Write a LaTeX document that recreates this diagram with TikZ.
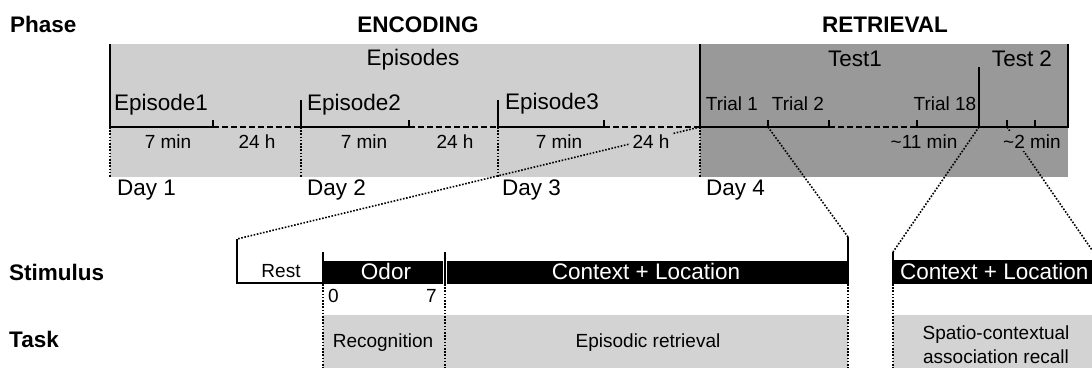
\documentclass[tikz,border=0pt]{standalone}
\usepackage{fontspec}
\setmainfont{Liberation Sans}
\definecolor{lightbox}{HTML}{CFCFCF}
\definecolor{darkbox}{HTML}{999999}
\definecolor{taskbox}{HTML}{D3D3D3}
\tikzset{
  lbl/.style={inner sep=0pt, font=\fontsize{19}{22}\selectfont},
  big/.style={inner sep=0pt, font=\fontsize{22.5}{26}\selectfont},
  hdr/.style={inner sep=0pt, font=\fontsize{22.5}{26}\selectfont\bfseries},
  tl/.style={line width=2pt},
  dsh/.style={line width=2pt, dash pattern=on 6pt off 3pt},
  dots/.style={line width=1.6pt, dash pattern=on 1.6pt off 1.6pt},
  bar/.style={fill=black},
}
\begin{document}
\begin{tikzpicture}[x=1pt,y=-1pt]
\clip (0,0) rectangle (1092,368);
\fill[white] (0,0) rectangle (1092,368);

% headers
\node[hdr,anchor=base west] (phase) at (10,32) {Phase};
\node[hdr,anchor=base] (enc) at (418,32) {ENCODING};
\node[hdr,anchor=base] (ret) at (885,32) {RETRIEVAL};
\node[hdr,anchor=base west] (stim) at (9,280) {Stimulus};
\node[hdr,anchor=base west] (task) at (9,347) {Task};

% phase boxes
\fill[lightbox] (110,44) rectangle (700,177);
\fill[darkbox] (700,44) rectangle (1068,177);

% named points
\coordinate (e1) at (110,127);
\coordinate (e2) at (301,127);
\coordinate (e3) at (498,127);
\coordinate (d4) at (700,127);
\coordinate (t1) at (768,127);
\coordinate (t18) at (979,127);
\coordinate (t2a) at (1007,127);
\coordinate (restTL) at (237,239);
\coordinate (ctxR) at (848,237);
\coordinate (ctx2L) at (893,252);
\coordinate (ctx2R) at (1092,250);

% timeline
\draw[tl] (110,44) -- (e1) -- (213,127) -- (213,120);
\draw[dsh] (213,127) -- (e2);
\draw[tl] (301,100) -- (e2) -- (409,127) -- (409,120);
\draw[dsh] (409,127) -- (e3);
\draw[tl] (498,100) -- (e3) -- (604,127) -- (604,120);
\draw[dsh] (604,127) -- (d4);
\draw[tl] (700,44) -- (d4) -- (829,127) -- (829,120);
\draw[tl] (768,120) -- (t1);
\draw[dsh] (829,127) -- (917,127);
\draw[tl] (917,120) -- (917,127) -- (1068,127) -- (1068,44);
\draw[tl] (979,67) -- (t18);
\draw[tl] (1007,120) -- (t2a);
\draw[tl] (1035,120) -- (1035,127);

% day separators
\draw[dots] (e1) -- (110,177);
\draw[dots] (e2) -- (301,177);
\draw[dots] (e3) -- (498,177);
\draw[dots] (d4) -- (700,177);

% zoom connectors
\draw[dots] (d4) -- (restTL);
\draw[dots] (t1) -- (ctxR);
\draw[dots] (t18) -- (ctx2L);
\draw[dots] (t2a) -- (ctx2R);

% labels in phase boxes
\node[big,anchor=base] (episodes) at (413,65) {Episodes};
\node[big,anchor=base] (test1) at (855,66) {Test1};
\node[big,anchor=base] (test2) at (1022,66) {Test 2};
\node[big,anchor=base west] (ep1) at (114,110) {Episode1};
\node[big,anchor=base west] (ep2) at (307,110) {Episode2};
\node[big,anchor=base west] (ep3) at (505,109) {Episode3};
\node[lbl,anchor=base] (tr1) at (732,110) {Trial 1};
\node[lbl,anchor=base] (tr2) at (798,110) {Trial 2};
\node[lbl,anchor=base] (tr18) at (945,110) {Trial 18};
\node[lbl,anchor=base] (m1) at (168,148) {7 min};
\node[lbl,anchor=base] (h1) at (257,148) {24 h};
\node[lbl,anchor=base] (m2) at (364,148) {7 min};
\node[lbl,anchor=base] (h2) at (455,148) {24 h};
\node[lbl,anchor=base] (m3) at (559,148) {7 min};
\node[lbl,anchor=base,fill=lightbox,inner sep=3pt] (h3) at (651,148) {24 h};
\node[lbl,anchor=base] (m11) at (924,148) {\char"007E{}11 min};
\node[lbl,anchor=base,fill=darkbox,inner sep=3pt] (m2b) at (1032,148) {\char"007E{}2 min};
\node[big,anchor=base west] (day1) at (117,195) {Day 1};
\node[big,anchor=base west] (day2) at (307,195) {Day 2};
\node[big,anchor=base west] (day3) at (502,195) {Day 3};
\node[big,anchor=base west] (day4) at (706,195) {Day 4};

% stimulus row
\draw[tl] (restTL) -- (237,283) -- (323,283);
\fill[bar] (323,261) rectangle (443,284);
\fill[bar] (447,261) rectangle (848,284);
\draw[tl] (323,252) -- (323,284);
\draw[tl] (445,252) -- (445,284);
\draw[tl] (ctxR) -- (848,284);
\fill[bar] (893,260) rectangle (1100,284);
\draw[tl] (ctx2L) -- (893,284);
\node[lbl,anchor=base] (rest) at (281,277) {Rest};
\node[big,anchor=base,text=white] (odor) at (386,279) {Odor};
\node[big,anchor=base,text=white] (ctx) at (646,279) {Context + Location};
\node[big,anchor=base west,text=white] (ctx2) at (900,279) {Context + Location};
\node[lbl,anchor=base west] (zero) at (328,302) {0};
\node[lbl,anchor=base east] (seven) at (437,302) {7};

% task row
\fill[taskbox] (323,315) rectangle (848,368);
\fill[taskbox] (893,315) rectangle (1092,368);
\draw[dots] (323,284) -- (323,368);
\draw[dots] (445,284) -- (445,368);
\draw[dots] (848,284) -- (848,368);
\draw[dots] (893,284) -- (893,368);
\node[lbl,anchor=base] (recog) at (383,347) {Recognition};
\node[lbl,anchor=base] (epret) at (648,347) {Episodic retrieval};
\node[lbl,anchor=base] (spat) at (996,339) {Spatio-contextual};
\node[lbl,anchor=base] (assoc) at (996,363) {association recall};
\end{tikzpicture}
\end{document}
